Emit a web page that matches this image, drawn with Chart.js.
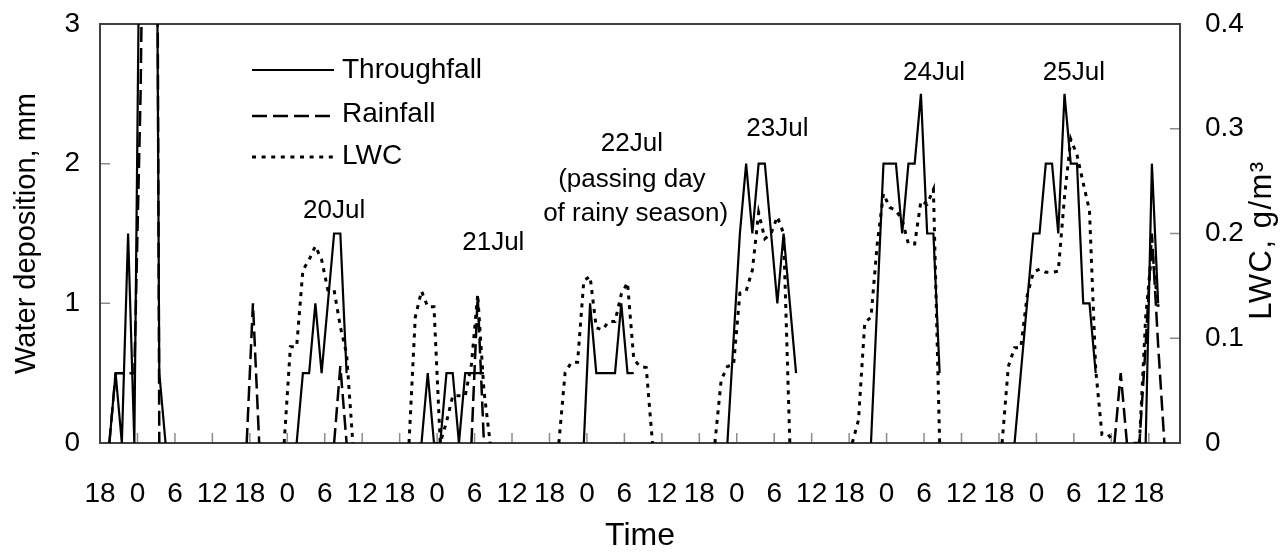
<!DOCTYPE html>
<html>
<head>
<meta charset="utf-8">
<script src="https://cdn.jsdelivr.net/npm/chart.js@4.4.0/dist/chart.umd.min.js"></script>
<style>
  html, body { margin: 0; padding: 0; background: #fff; }
  #wrap { width: 1284px; height: 560px; }
</style>
</head>
<body>
<div id="wrap"><canvas id="depChart"></canvas></div>
<script>
// hours counted from 18:00 (first tick), values sit at mid-hour
// null breaks the line between events
var tfHours = [1.5, 2.5, 3.5, 4.5, 5.5, 6.5, 7.5, 8.5, 9.5, 10.5, 20,
  31.5, 32.5, 33.5, 34.5, 35.5, 36.5, 37.5, 38.5, 39.5, 45,
  51.5, 52.5, 53.5, 54.5, 55.5, 56.5, 57.5, 58.5, 59.5, 60.5, 61.5, 70,
  77.5, 78.5, 79.5, 80.5, 81.5, 82.5, 83.5, 84.5, 85.5, 95,
  100.5, 101.5, 102.5, 103.5, 104.5, 105.5, 106.5, 107.5, 108.5, 109.5, 110.5, 111.5, 118,
  123.5, 124.5, 125.5, 126.5, 127.5, 128.5, 129.5, 130.5, 131.5, 132.5, 133.5, 134.5, 140,
  146.5, 147.5, 148.5, 149.5, 150.5, 151.5, 152.5, 153.5, 154.5, 155.5, 156.5, 157.5, 158.5, 159.5, 164,
  167.5, 168.5, 169.5];
var tfValues = [0, 0.5, 0, 1.5, 0, 4.5, 6, 9, 0.5, 0, null,
  0, 0.5, 0.5, 1.0, 0.5, 1.0, 1.5, 1.5, 0.5, null,
  0, 0.5, 0, 0, 0.5, 0.5, 0, 0.5, 0.5, 0.5, 0.5, null,
  0, 1.0, 0.5, 0.5, 0.5, 0.5, 1.0, 0.5, 0.5, null,
  0, 0.75, 1.5, 2.0, 1.5, 2.0, 2.0, 1.5, 1.0, 1.5, 1.0, 0.5, null,
  0, 1.0, 2.0, 2.0, 2.0, 1.5, 2.0, 2.0, 2.5, 1.5, 1.5, 0.5, null,
  0, 0.5, 1.0, 1.5, 1.5, 2.0, 2.0, 1.5, 2.5, 2.0, 2.0, 1.0, 1.0, 0.5, null,
  0, 2.0, 1.0];

var rfHours = [1.5, 2.5, 3.5, 4.5, 5.5, 6.5, 7.5, 8.5, 9.5, 15,
  23.5, 24.5, 25.5, 30,
  37.5, 38.5, 39.5, 50,
  59.5, 60.5, 61.5, 120,
  162.5, 163.5, 164.5, 165.5, 166.5, 167.5, 168.5, 169.5, 170.5];
var rfValues = [0, 0.5, 0.5, 0.5, 0.5, 2.5, 6, 12, 0, null,
  0, 1.0, 0, null,
  0, 0.55, 0, null,
  0, 1.05, 0, null,
  0, 0.5, 0, 0, 0, 0.7, 1.5, 0.7, 0];

var lwcHours = [29.5, 30.5, 31.5, 32.5, 33.5, 34.5, 35.5, 36.5, 37.5, 38.5, 39.5, 40.5, 45,
  49.5, 50.5, 51.5, 52.5, 53.5, 54.5, 55.5, 56.5, 57.5, 58.5, 59.5, 60.5, 61.5, 62.5, 68,
  73.5, 74.5, 75.5, 76.5, 77.5, 78.5, 79.5, 80.5, 81.5, 82.5, 83.5, 84.5, 85.5, 86.5, 87.5, 88.5, 95,
  98.5, 99.5, 100.5, 101.5, 102.5, 103.5, 104.5, 105.5, 106.5, 107.5, 108.5, 109.5, 110.5, 115,
  120.5, 121.5, 122.5, 123.5, 124.5, 125.5, 126.5, 127.5, 128.5, 129.5, 130.5, 131.5, 132.5, 133.5, 134.5, 140,
  144.5, 145.5, 146.5, 147.5, 148.5, 149.5, 150.5, 151.5, 152.5, 153.5, 154.5, 155.5, 156.5, 157.5, 158.5, 159.5, 160.5, 161.5, 162.5, 164,
  166.5, 167.5, 168.5, 169.5];
var lwcValues = [0, 0.092, 0.092, 0.165, 0.175, 0.188, 0.175, 0.146, 0.146, 0.111, 0.085, 0, null,
  0, 0.12, 0.145, 0.13, 0.13, 0, 0.02, 0.045, 0.045, 0.045, 0.075, 0.142, 0.05, 0, null,
  0, 0.067, 0.077, 0.077, 0.155, 0.159, 0.11, 0.108, 0.116, 0.116, 0.142, 0.153, 0.08, 0.073, 0.072, 0, null,
  0, 0.06, 0.073, 0.075, 0.143, 0.145, 0.165, 0.22, 0.195, 0.2, 0.216, 0.2, 0, null,
  0, 0.022, 0.115, 0.12, 0.19, 0.238, 0.225, 0.222, 0.213, 0.19, 0.19, 0.231, 0.228, 0.242, 0, null,
  0, 0.073, 0.091, 0.091, 0.14, 0.163, 0.166, 0.163, 0.163, 0.164, 0.235, 0.29, 0.275, 0.248, 0.222, 0.07, 0.008, 0.008, 0, null,
  0, 0.12, 0.185, 0.13];

var seriesNames = ['Throughfall', 'Rainfall', 'LWC'];
var xTickLabels = ['18', '0', '6', '12', '18', '0', '6', '12', '18', '0', '6', '12', '18', '0', '6', '12',
  '18', '0', '6', '12', '18', '0', '6', '12', '18', '0', '6', '12', '18'];
var dayNotes = ['20Jul', '21Jul', '22Jul', '(passing day', 'of rainy season)', '23Jul', '24Jul', '25Jul'];

function pairs(hours, values) {
  return hours.map(function (h, i) { return { x: h, y: values[i] }; });
}

var FONT = "'Liberation Sans', Arial, sans-serif";

// text, legend, inward tick marks and frame
var decor = {
  id: 'decor',
  beforeDatasetsDraw: function (chart) {
    var ctx = chart.ctx, a = chart.chartArea;
    var sx = chart.scales.x, sy = chart.scales.y, sy1 = chart.scales.y1;
    ctx.save();
    ctx.strokeStyle = '#8c8c8c';
    ctx.lineWidth = 1.5;
    ctx.beginPath();
    sx.ticks.forEach(function (t) {
      var p = sx.getPixelForValue(t.value);
      ctx.moveTo(p, a.bottom); ctx.lineTo(p, a.bottom - 10);
    });
    sy.ticks.forEach(function (t) {
      var p = sy.getPixelForValue(t.value);
      ctx.moveTo(a.left, p); ctx.lineTo(a.left + 10, p);
    });
    sy1.ticks.forEach(function (t) {
      var p = sy1.getPixelForValue(t.value);
      ctx.moveTo(a.right, p); ctx.lineTo(a.right - 10, p);
    });
    ctx.stroke();
    ctx.strokeStyle = '#404040';
    ctx.lineWidth = 2;
    ctx.strokeRect(a.left, a.top, a.right - a.left, a.bottom - a.top);
    ctx.restore();
  },
  afterDatasetsDraw: function (chart) {
    var ctx = chart.ctx, a = chart.chartArea;
    var sx = chart.scales.x, sy = chart.scales.y;
    ctx.save();
    // legend
    var lineY = [70, 116, 157], textY = [70, 114, 156];
    chart.data.datasets.forEach(function (ds, i) {
      ctx.strokeStyle = '#000';
      ctx.lineWidth = ds.borderWidth;
      ctx.setLineDash(ds.borderDash || []);
      ctx.beginPath();
      ctx.moveTo(252, lineY[i]); ctx.lineTo(334, lineY[i]);
      ctx.stroke();
      ctx.setLineDash([]);
      ctx.fillStyle = '#000';
      ctx.font = '28px ' + FONT;
      ctx.textAlign = 'left';
      ctx.textBaseline = 'middle';
      ctx.fillText(ds.label, 342, textY[i]);
    });
    // day labels, placed in data units
    var notePos = [[37.5, 1.66], [63.0, 1.43], [85.2, 2.14], [85.2, 1.885], [85.8, 1.64],
      [108.5, 2.25], [133.6, 2.65], [156.0, 2.65]];
    ctx.font = '26px ' + FONT;
    ctx.textAlign = 'center';
    ctx.textBaseline = 'middle';
    dayNotes.forEach(function (t, i) {
      ctx.fillText(t, sx.getPixelForValue(notePos[i][0]), sy.getPixelForValue(notePos[i][1]));
    });
    // right axis title, reading upward
    ctx.translate(1262, 240);
    ctx.rotate(-Math.PI / 2);
    ctx.font = '31px ' + FONT;
    ctx.letterSpacing = '1.5px';
    ctx.fillText('LWC, g/m\u00b3', 0, 0);
    ctx.restore();
  }
};

function fixWidth(w) {
  return function (scale) {
    scale.width = w;
    scale.paddingTop = 0;
    scale.paddingBottom = 0;
  };
}

var ctx = document.getElementById('depChart').getContext('2d');
var depChart = new Chart(ctx, {
  type: 'line',
  data: {
    datasets: [
      {
        label: seriesNames[0],
        data: pairs(tfHours, tfValues),
        borderColor: '#000',
        borderWidth: 2.2,
        yAxisID: 'y'
      },
      {
        label: seriesNames[1],
        data: pairs(rfHours, rfValues),
        borderColor: '#000',
        borderWidth: 2.5,
        borderDash: [15, 6],
        yAxisID: 'y'
      },
      {
        label: seriesNames[2],
        data: pairs(lwcHours, lwcValues),
        borderColor: '#000',
        borderWidth: 3,
        borderDash: [4, 5.6],
        yAxisID: 'y1'
      }
    ]
  },
  options: {
    responsive: true,
    maintainAspectRatio: false,
    animation: false,
    devicePixelRatio: 1,
    spanGaps: false,
    elements: { point: { radius: 0 }, line: { tension: 0, fill: false } },
    layout: { padding: { top: 24, left: 0, right: 0, bottom: 0 } },
    plugins: { legend: { display: false }, tooltip: { enabled: false } },
    scales: {
      x: {
        type: 'linear',
        min: 0,
        max: 173,
        grid: { display: false, drawTicks: false },
        border: { display: false },
        afterBuildTicks: function (scale) {
          scale.ticks = xTickLabels.map(function (l, i) { return { value: i * 6 }; });
        },
        afterFit: function (scale) { scale.height = 117; },
        ticks: {
          autoSkip: false,
          maxRotation: 0,
          color: '#000',
          padding: 34,
          font: { family: FONT, size: 28 },
          callback: function (v, i) { return xTickLabels[i]; }
        },
        title: {
          display: true,
          text: 'Time',
          color: '#000',
          font: { family: FONT, size: 32 },
          padding: { top: 0, bottom: 5 }
        }
      },
      y: {
        position: 'left',
        min: 0,
        max: 3,
        grid: { display: false, drawTicks: false },
        border: { display: false },
        afterFit: fixWidth(100),
        ticks: {
          stepSize: 1,
          color: '#000',
          padding: 20,
          font: { family: FONT, size: 28 }
        },
        title: {
          display: true,
          text: 'Water deposition, mm',
          color: '#000',
          font: { family: FONT, size: 29 },
          padding: { top: 10, bottom: 0 }
        }
      },
      y1: {
        position: 'right',
        min: 0,
        max: 0.4,
        grid: { display: false, drawTicks: false },
        border: { display: false },
        afterFit: fixWidth(104),
        ticks: {
          stepSize: 0.1,
          color: '#000',
          padding: 25,
          font: { family: FONT, size: 28 },
          callback: function (v) { return v === 0 ? '0' : v.toFixed(1); }
        }
      }
    }
  },
  plugins: [decor]
});
</script>
</body>
</html>
